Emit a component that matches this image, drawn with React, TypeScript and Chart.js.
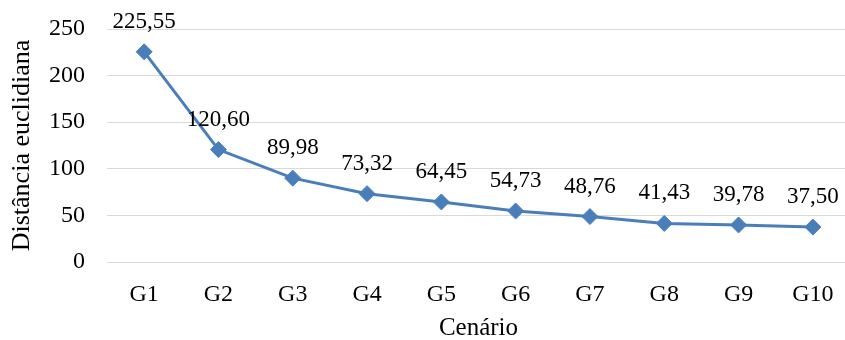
import React, { useEffect, useRef } from "react";
import { Chart, registerables } from "chart.js";

Chart.register(...registerables);

const categories = ["G1", "G2", "G3", "G4", "G5", "G6", "G7", "G8", "G9", "G10"];
const distances = [225.55, 120.6, 89.98, 73.32, 64.45, 54.73, 48.76, 41.43, 39.78, 37.5];
const yTicks = [0, 50, 100, 150, 200, 250];

const SERIF = "'Liberation Serif', 'Times New Roman', serif";
const LINE_COLOR = "#4a7ebb";

const fmt = (v: number) => v.toFixed(2).replace(".", ",");

// Writes each point's value above its marker
const valueLabels = {
  id: "valueLabels",
  afterDatasetsDraw(chart: any) {
    const { ctx } = chart;
    const meta = chart.getDatasetMeta(0);
    ctx.save();
    ctx.font = `23px ${SERIF}`;
    ctx.fillStyle = "#000";
    ctx.textAlign = "center";
    ctx.textBaseline = "middle";
    meta.data.forEach((pt: any, i: number) => {
      ctx.fillText(fmt(distances[i]), pt.x, pt.y - 30);
    });
    ctx.restore();
  },
};

export default function App() {
  const ref = useRef<HTMLCanvasElement>(null);

  useEffect(() => {
    document.body.style.overflow = "hidden";
    const chart = new Chart(ref.current!, {
      type: "line",
      data: {
        labels: categories,
        datasets: [
          {
            data: distances,
            borderColor: LINE_COLOR,
            backgroundColor: LINE_COLOR,
            borderWidth: 3,
            pointStyle: "rectRot",
            pointRadius: 8,
            pointBorderWidth: 1,
            tension: 0,
          },
        ],
      },
      options: {
        animation: false,
        responsive: false,
        layout: { padding: { top: 29, right: 0, left: 0, bottom: 0 } },
        plugins: { legend: { display: false }, tooltip: { enabled: false } },
        scales: {
          x: {
            offset: true,
            grid: { display: false, drawTicks: false },
            border: { display: false },
            ticks: {
              color: "#000",
              font: { family: SERIF, size: 24 },
              padding: 18,
              maxRotation: 0,
            },
            title: {
              display: true,
              text: "Cenário",
              color: "#000",
              font: { family: SERIF, size: 25 },
              padding: { top: 0, bottom: -3 },
            },
            afterFit: (s: any) => {
              s.height = 78;
              s.paddingLeft = 0;
              s.paddingRight = 0;
            },
          },
          y: {
            min: 0,
            max: 250,
            afterBuildTicks: (s: any) => {
              s.ticks = yTicks.map((v) => ({ value: v }));
            },
            grid: { color: "#d9d9d9", lineWidth: 1, drawTicks: false },
            border: { display: false },
            ticks: {
              color: "#000",
              font: { family: SERIF, size: 24 },
              padding: 22,
            },
            title: {
              display: true,
              text: "Distância euclidiana",
              color: "#000",
              font: { family: SERIF, size: 26 },
              padding: { top: 7, bottom: 0 },
            },
            afterFit: (s: any) => {
              s.width = 107;
              s.paddingTop = 0;
              s.paddingBottom = 0;
            },
          },
        },
      },
      plugins: [valueLabels],
    });
    return () => chart.destroy();
  }, []);

  return (
    <div style={{ position: "absolute", left: 0, top: 0, width: 859, height: 340 }}>
      <canvas ref={ref} width={859} height={340} />
    </div>
  );
}
